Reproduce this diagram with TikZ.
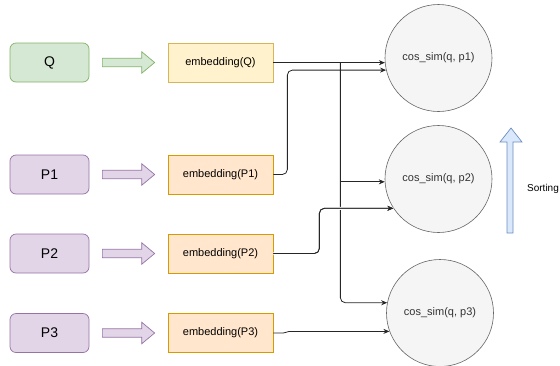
\documentclass[tikz,border=0pt]{standalone}
\usepackage{fontspec}
\setmainfont{Liberation Sans}
\usetikzlibrary{arrows.meta,calc}

\definecolor{qfill}{HTML}{D5E8D4}
\definecolor{qline}{HTML}{82B366}
\definecolor{pfill}{HTML}{E1D5E7}
\definecolor{pline}{HTML}{9673A6}
\definecolor{eqfill}{HTML}{FFF2CC}
\definecolor{eqline}{HTML}{D6B656}
\definecolor{epfill}{HTML}{FFE6CC}
\definecolor{epline}{HTML}{D79B00}
\definecolor{simfill}{HTML}{F5F5F5}
\definecolor{simline}{HTML}{666666}
\definecolor{simtext}{HTML}{333333}
\definecolor{sortfill}{HTML}{DAE8FC}
\definecolor{sortline}{HTML}{6C8EBF}

% thick block arrow between two boxes, 13pt clear of each
\newcommand\fatarrow[3]{%
  \path[#3] let \p1=([xshift=13pt]#1.east), \p2=([xshift=-13pt]#2.west) in
    (\x1,\y1+4.2pt) -- (\x2-13pt,\y1+4.2pt) -- (\x2-13pt,\y1+10.8pt) -- (\x2,\y1)
    -- (\x2-13pt,\y1-10.8pt) -- (\x2-13pt,\y1-4.2pt) -- (\x1,\y1-4.2pt) -- cycle;}

\begin{document}
\begin{tikzpicture}[x=1pt,y=-1pt,
  inbox/.style={draw, rounded corners=6pt, line width=0.7pt, minimum width=79pt,
    minimum height=39pt, inner sep=0pt, font=\fontsize{14}{16}\selectfont},
  qbox/.style={inbox, fill=qfill, draw=qline},
  pbox/.style={inbox, fill=pfill, draw=pline},
  embbox/.style={draw, line width=0.7pt, minimum width=105pt, minimum height=39pt,
    inner sep=0pt, font=\fontsize{11}{13}\selectfont},
  eqbox/.style={embbox, fill=eqfill, draw=eqline},
  epbox/.style={embbox, fill=epfill, draw=epline},
  sim/.style={circle, draw=simline, fill=simfill, line width=0.6pt,
    minimum size=107pt, inner sep=0pt, text=simtext, font=\fontsize{11}{13}\selectfont},
  qarrow/.style={draw=qline, fill=qfill, line width=0.7pt},
  parrow/.style={draw=pline, fill=pfill, line width=0.7pt},
  conn/.style={draw=black!85, line width=0.8pt, rounded corners=5pt,
    -{Stealth[length=6pt,width=5pt]}}
]
\useasboundingbox (0,0) rectangle (560,365);

% inputs
\node[qbox] (q)  at (49.5,62.5)  {Q};
\node[pbox] (p1) at (49.5,174.5) {P1};
\node[pbox] (p2) at (49.5,253.5) {P2};
\node[pbox] (p3) at (49.5,333)   {P3};

% embeddings
\node[eqbox] (eq)  at (220.5,62.5)  {embedding(Q)};
\node[epbox] (ep1) at (220.5,174.5) {embedding(P1)};
\node[epbox] (ep2) at (220.5,253.5) {embedding(P2)};
\node[epbox] (ep3) at (220.5,333)   {embedding(P3)};

% similarity scores
\node[sim] (c1) at (438.5,58)  {cos\_sim(q, p1)};
\node[sim] (c2) at (438.5,179) {cos\_sim(q, p2)};
\node[sim] (c3) at (440,313)   {cos\_sim(q, p3)};

% block arrows into the embeddings
\fatarrow{q}{eq}{qarrow}
\fatarrow{p1}{ep1}{parrow}
\fatarrow{p2}{ep2}{parrow}
\fatarrow{p3}{ep3}{parrow}

% query embedding fans out to every score; the branches leave the
% straight line at a sharp junction
\draw[conn] (eq.east |- c1.185) -- (c1.185);
\coordinate (qsplit) at ([xshift=67pt]eq.east |- c1.185);
\draw[conn, rounded corners=0pt] (qsplit) |- (c2.183);
\draw[conn] (qsplit) |- (c3.169);

% passage embeddings
\draw[conn] (ep1.east) -- ([xshift=14pt]ep1.east) |- (c1.193);
\draw[conn, preaction={draw=white, line width=3pt, -}]
  (ep2.east) -- ([xshift=46pt]ep2.east) |- (c2.213);
\draw[conn] (ep2.east) -- ([xshift=46pt]ep2.east) |- (c2.213);
\coordinate (p3step) at ([xshift=16pt]ep3.east |- c3.200);
\draw[conn, rounded corners=0pt] (ep3.east) -- ([xshift=10pt]ep3.east)
  to[out=0,in=180] (p3step) -- (c3.200);

% sorting direction
\draw[draw=sortline, fill=sortfill, line width=0.7pt]
  (507,233) -- (507,142) -- (500,142) -- (511,128) -- (522,142) -- (513,142) -- (513,233) -- cycle;
\node[font=\fontsize{10}{12}\selectfont] (sortlabel) at (543,189) {Sorting};
\end{tikzpicture}
\end{document}
